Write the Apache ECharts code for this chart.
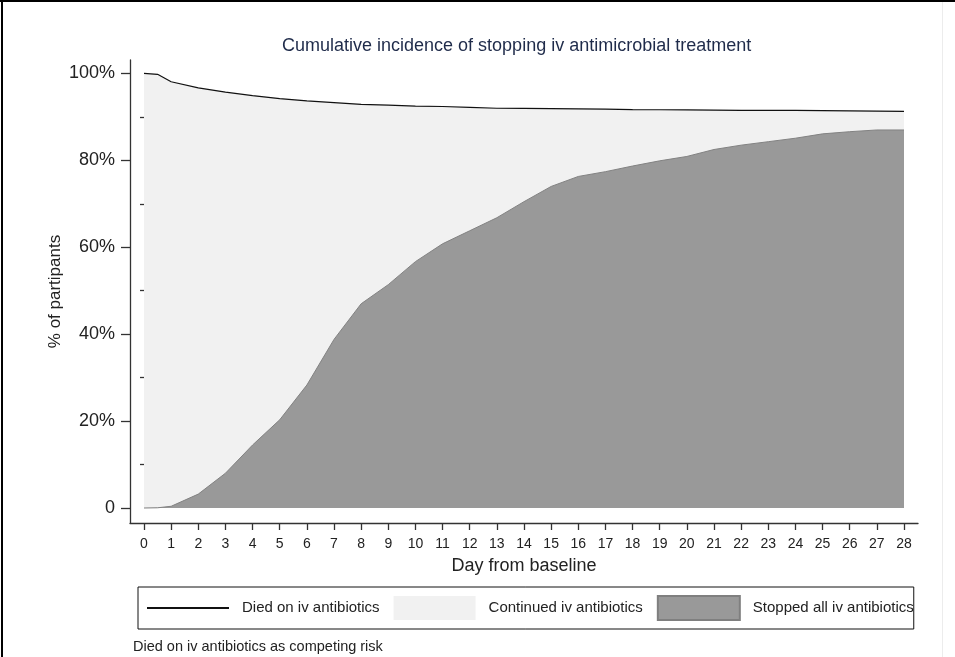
<!DOCTYPE html>
<html>
<head>
<meta charset="utf-8">
<script src="https://cdn.jsdelivr.net/npm/echarts@6/dist/echarts.min.js"></script>
<style>
  html, body { margin: 0; padding: 0; background: #fff; }
  #main { width: 955px; height: 657px; }
</style>
</head>
<body>
<div id="main"></div>
<script>
var days = [0, 0.5, 1, 2, 3, 4, 5, 6, 7, 8, 9, 10, 11, 12, 13, 14, 15, 16, 17, 18, 19, 20, 21, 22, 23, 24, 25, 26, 27, 28];
// 100% minus cumulative deaths on iv antibiotics (top line)
var diedCurve = [100, 99.8, 98.1, 96.7, 95.7, 94.9, 94.2, 93.7, 93.3, 92.9, 92.7, 92.5, 92.4, 92.2, 92.0,
  91.95, 91.9, 91.85, 91.8, 91.7, 91.65, 91.6, 91.55, 91.5, 91.5, 91.5, 91.45, 91.4, 91.35, 91.3];
// cumulative incidence of stopping all iv antibiotics
var stopped = [0, 0.05, 0.4, 3.2, 8.0, 14.5, 20.3, 28.3, 38.8, 47.0, 51.4, 56.7, 60.8, 63.8, 66.8,
  70.5, 74.0, 76.3, 77.4, 78.7, 79.9, 80.9, 82.5, 83.5, 84.3, 85.1, 86.1, 86.6, 87.0, 87.0];

var dayTicks = [];
for (var d = 0; d <= 28; d++) dayTicks.push(d);
var pctTicks = [0, 20, 40, 60, 80, 100];
var pctMinor = [10, 30, 50, 70, 90];

var seriesNames = ['Died on iv antibiotics', 'Continued iv antibiotics', 'Stopped all iv antibiotics'];

function pairs(ys) {
  var out = [];
  for (var i = 0; i < days.length; i++) out.push([days[i], ys[i]]);
  return out;
}

var FONT = "'Liberation Sans', Arial, sans-serif";
var myChart = echarts.init(document.getElementById('main'));

var option = {
  backgroundColor: '#fff',
  animation: false,
  textStyle: { fontFamily: FONT },
  title: [{
    text: 'Cumulative incidence of stopping iv antimicrobial treatment',
    left: 277,
    top: 32,
    textStyle: { fontFamily: FONT, fontSize: 18, fontWeight: 'normal', color: '#1f2b4a' }
  }, {
    text: 'Died on iv antibiotics as competing risk',
    left: 133,
    top: 639,
    padding: 0,
    textStyle: { fontFamily: FONT, fontSize: 14.5, fontWeight: 'normal', color: '#222' }
  }],
  grid: {
    left: 130,
    right: 37,
    top: 60,
    bottom: 134
  },
  legend: {
    left: 138,
    top: 587,
    orient: 'horizontal',
    borderColor: '#111',
    borderWidth: 1,
    padding: [8, 0, 8, 9],
    itemWidth: 82,
    itemHeight: 24,
    itemGap: 14,
    textStyle: { fontFamily: FONT, fontSize: 15, color: '#222', padding: [0, 0, 0, 8] },
    data: [
      { name: seriesNames[0], icon: 'path://M0,0 L82,0 L82,2 L0,2 Z', itemStyle: { color: '#111' } },
      { name: seriesNames[1], icon: 'rect' },
      { name: seriesNames[2], icon: 'rect' }
    ]
  },
  xAxis: {
    type: 'value',
    min: -0.516,
    max: 28.516,
    name: 'Day from baseline',
    nameLocation: 'middle',
    nameGap: 34,
    nameTextStyle: { fontFamily: FONT, fontSize: 18, color: '#222' },
    axisLine: { show: true, onZero: false, lineStyle: { color: '#333', width: 1.3 } },
    axisTick: { show: true, inside: false, length: 7, customValues: dayTicks, lineStyle: { color: '#333', width: 1.3 } },
    axisLabel: { customValues: dayTicks, margin: 14, fontSize: 14, color: '#222', fontFamily: FONT },
    splitLine: { show: false }
  },
  yAxis: [{
    type: 'value',
    min: -3.45,
    max: 103.1,
    name: '% of partipants',
    nameLocation: 'middle',
    nameRotate: 90,
    nameGap: 66,
    nameMoveOverlap: false,
    nameTextStyle: { fontFamily: FONT, fontSize: 17, color: '#222' },
    axisLine: { show: true, onZero: false, lineStyle: { color: '#333', width: 1.3 } },
    axisTick: { show: true, inside: false, length: 9, customValues: pctTicks, lineStyle: { color: '#333', width: 1.3 } },
    axisLabel: {
      customValues: pctTicks,
      margin: 15,
      fontSize: 18,
      color: '#222',
      fontFamily: FONT,
      formatter: function (v) { return v === 0 ? '0' : v + '%'; }
    },
    splitLine: { show: false }
  }, {
    type: 'value',
    position: 'left',
    min: -3.45,
    max: 103.1,
    axisLine: { show: false },
    axisTick: { show: true, inside: false, length: 4, customValues: pctMinor, lineStyle: { color: '#333', width: 1.3 } },
    axisLabel: { show: false },
    splitLine: { show: false }
  }],
  series: [{
    name: seriesNames[1],
    type: 'line',
    data: pairs(diedCurve),
    symbol: 'none',
    color: '#f1f1f1',
    itemStyle: { color: '#f1f1f1' },
    lineStyle: { width: 0, color: '#f1f1f1' },
    areaStyle: { color: '#f1f1f1', opacity: 1, origin: 'auto' },
    z: 1
  }, {
    name: seriesNames[2],
    type: 'line',
    data: pairs(stopped),
    symbol: 'none',
    color: '#999999',
    itemStyle: { color: '#999999', borderColor: '#7f7f7f', borderWidth: 1 },
    lineStyle: { width: 1, color: '#828282' },
    areaStyle: { color: '#999999', opacity: 1, origin: 'auto' },
    z: 2
  }, {
    name: seriesNames[0],
    type: 'line',
    data: pairs(diedCurve),
    symbol: 'none',
    color: '#111',
    lineStyle: { width: 1.2, color: '#111' },
    z: 3
  }],
  graphic: [
    { type: 'rect', left: 0, top: 0, shape: { width: 955, height: 2 }, style: { fill: '#000' }, silent: true },
    { type: 'rect', left: 1, top: 0, shape: { width: 2, height: 657 }, style: { fill: '#000' }, silent: true },
    { type: 'rect', left: 942, top: 2, shape: { width: 1, height: 655 }, style: { fill: '#ececec' }, silent: true }
  ]
};

myChart.setOption(option, true);
</script>
</body>
</html>
